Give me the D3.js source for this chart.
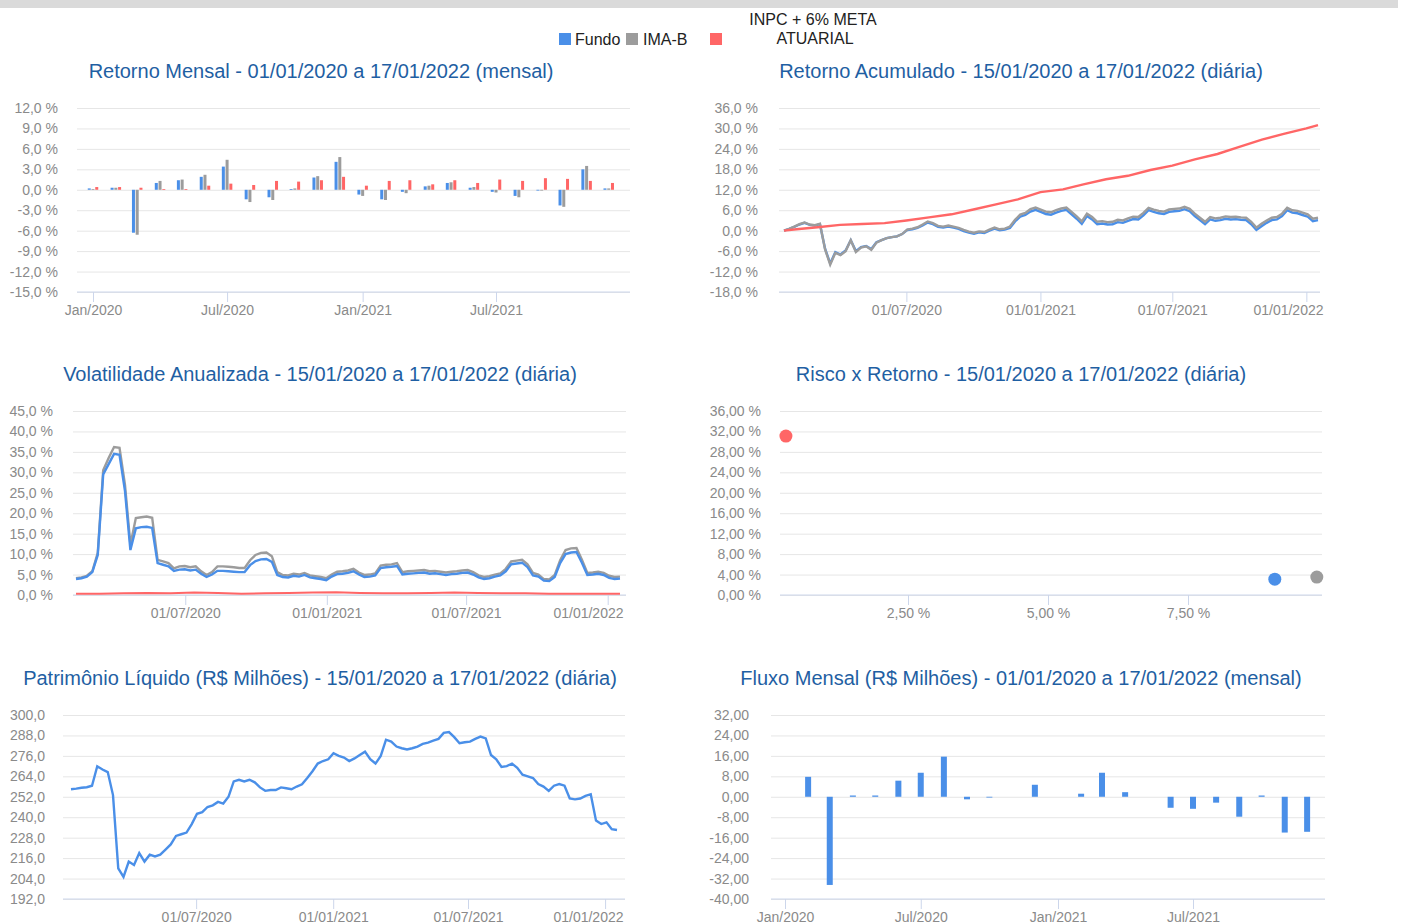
<!DOCTYPE html>
<html>
<head>
<meta charset="utf-8">
<script src="https://cdn.jsdelivr.net/npm/d3@7"></script>
<style>
  body { margin: 0; background: #fff; }
  svg text { font-family: 'Liberation Sans', Arial, Helvetica, sans-serif; }
</style>
</head>
<body>
<div id="chart"></div>
<script>
// ---- data ----
const seriesNames = ['Fundo', 'IMA-B', 'INPC + 6% META ATUARIAL'];
const months = ['2020-01-01', '2020-02-01', '2020-03-01', '2020-04-01', '2020-05-01', '2020-06-01',
  '2020-07-01', '2020-08-01', '2020-09-01', '2020-10-01', '2020-11-01', '2020-12-01',
  '2021-01-01', '2021-02-01', '2021-03-01', '2021-04-01', '2021-05-01', '2021-06-01',
  '2021-07-01', '2021-08-01', '2021-09-01', '2021-10-01', '2021-11-01', '2021-12-01'];

// Retorno Mensal (%)
const mensalFundo = [0.2, 0.3, -6.3, 1.0, 1.4, 1.9, 3.4, -1.4, -1.1, 0.1, 1.8, 4.1,
  -0.7, -1.4, -0.3, 0.5, 1.0, 0.3, -0.3, -0.9, 0.0, -2.3, 3.0, 0.2];
const mensalImab = [0.1, 0.3, -6.6, 1.3, 1.5, 2.2, 4.4, -1.8, -1.5, 0.2, 2.0, 4.8,
  -0.9, -1.5, -0.5, 0.6, 1.1, 0.4, -0.4, -1.1, -0.1, -2.5, 3.5, 0.2];
const mensalMeta = [0.4, 0.4, 0.3, 0.1, 0.1, 0.6, 0.9, 0.7, 1.3, 1.2, 1.4, 1.9,
  0.6, 1.3, 1.4, 0.8, 1.4, 1.0, 1.5, 1.3, 1.7, 1.6, 1.3, 1.0];

// Retorno Acumulado (%), pontos semanais de 15/01/2020 a 17/01/2022
const acumFundo = [0.0, 0.5, 1.1, 1.8, 2.3, 1.7, 1.5, 1.9, -5.3, -9.6,
  -6.3, -7.0, -5.8, -2.8, -6.0, -4.8, -4.5, -5.4, -3.4, -2.8,
  -2.2, -1.9, -1.7, -1.0, 0.2, 0.4, 0.8, 1.5, 2.4, 1.9,
  1.1, 0.9, 1.2, 0.9, 0.5, -0.1, -0.6, -0.9, -0.5, -0.7,
  0.0, 0.6, 0.1, 0.3, 0.8, 2.7, 4.1, 4.6, 5.6, 6.1,
  5.5, 4.9, 4.7, 5.3, 5.8, 6.1, 4.8, 3.5, 2.0, 4.3,
  3.3, 1.9, 2.1, 1.8, 1.9, 2.5, 2.3, 2.9, 3.4, 3.3,
  4.5, 6.0, 5.5, 5.1, 4.9, 5.5, 5.7, 5.8, 6.3, 5.7,
  4.3, 3.1, 1.9, 3.3, 2.9, 3.1, 3.5, 3.3, 3.4, 3.2,
  3.1, 1.9, 0.2, 1.3, 2.3, 3.1, 3.3, 4.3, 6.0, 5.3,
  5.1, 4.6, 4.1, 2.8, 3.1];
const acumImab = [0.0, 0.5, 1.2, 1.9, 2.4, 1.8, 1.6, 2.0, -5.5, -10.0,
  -6.5, -7.2, -6.0, -2.8, -6.3, -5.0, -4.6, -5.6, -3.5, -2.8,
  -2.2, -1.9, -1.7, -1.0, 0.3, 0.6, 1.0, 1.8, 2.7, 2.2,
  1.4, 1.2, 1.5, 1.2, 0.8, 0.2, -0.3, -0.6, -0.2, -0.4,
  0.3, 0.9, 0.4, 0.6, 1.2, 3.2, 4.7, 5.2, 6.3, 6.8,
  6.2, 5.6, 5.4, 6.0, 6.5, 6.8, 5.5, 4.2, 2.7, 5.0,
  4.0, 2.6, 2.8, 2.5, 2.6, 3.2, 3.0, 3.6, 4.1, 4.0,
  5.2, 6.7, 6.2, 5.8, 5.6, 6.2, 6.4, 6.5, 7.0, 6.4,
  5.0, 3.8, 2.6, 4.0, 3.6, 3.8, 4.2, 4.0, 4.1, 3.9,
  3.8, 2.6, 0.9, 2.0, 3.0, 3.8, 4.0, 5.0, 6.7, 6.0,
  5.8, 5.3, 4.8, 3.5, 3.8];
const metaDates = ['2020-01-15', '2020-02-01', '2020-03-01', '2020-04-01', '2020-05-01', '2020-06-01',
  '2020-07-01', '2020-08-01', '2020-09-01', '2020-10-01', '2020-11-01', '2020-12-01',
  '2021-01-01', '2021-02-01', '2021-03-01', '2021-04-01', '2021-05-01', '2021-06-01',
  '2021-07-01', '2021-08-01', '2021-09-01', '2021-10-01', '2021-11-01', '2021-12-01',
  '2022-01-01', '2022-01-17'];
const acumMeta = [0.0, 0.4, 1.0, 1.7, 1.95, 2.2, 3.0, 3.9, 4.8, 6.2, 7.7, 9.2,
  11.3, 12.1, 13.6, 15.1, 16.1, 17.8, 19.1, 20.9, 22.5, 24.6, 26.7, 28.4, 30.0, 31.0];

// Volatilidade anualizada (%), de 10/02/2020 a 17/01/2022
const volFundo = [3.9, 4.1, 4.5, 5.6, 9.8, 29.5, 32.0, 34.5, 34.3, 25.5,
  11.0, 16.3, 16.6, 16.7, 16.4, 7.8, 7.4, 7.0, 5.9, 6.2,
  6.3, 6.0, 6.2, 5.2, 4.4, 5.0, 5.9, 5.9, 5.8, 5.7,
  5.6, 5.6, 7.3, 8.3, 8.7, 8.8, 8.1, 4.9, 4.4, 4.3,
  4.7, 4.5, 4.9, 4.3, 4.1, 3.9, 3.6, 4.5, 5.1, 5.2,
  5.4, 5.8, 5.0, 4.4, 4.5, 4.8, 6.6, 6.8, 6.9, 7.1,
  5.0, 5.2, 5.3, 5.4, 5.5, 5.2, 5.3, 5.1, 4.9, 5.1,
  5.2, 5.4, 5.5, 5.0, 4.3, 3.9, 4.1, 4.5, 4.8, 5.8,
  7.5, 7.7, 7.9, 6.8, 4.8, 4.5, 3.5, 3.4, 4.4, 7.8,
  10.0, 10.4, 10.5, 7.9, 4.9, 5.0, 5.2, 4.9, 4.2, 3.9,
  4.0];
const volImab = [4.1, 4.3, 4.7, 5.8, 10.3, 30.5, 33.5, 36.2, 36.0, 27.0,
  12.3, 18.8, 19.0, 19.2, 18.9, 8.6, 8.2, 7.8, 6.5, 7.0,
  7.1, 6.8, 7.0, 5.8, 4.9, 5.6, 7.0, 7.0, 6.9, 6.8,
  6.6, 6.6, 8.5, 9.8, 10.3, 10.4, 9.5, 5.6, 4.9, 4.8,
  5.2, 5.0, 5.4, 4.8, 4.6, 4.4, 4.1, 5.0, 5.7, 5.8,
  6.0, 6.4, 5.5, 4.9, 5.0, 5.3, 7.2, 7.4, 7.5, 7.8,
  5.6, 5.8, 5.9, 6.0, 6.1, 5.8, 5.9, 5.7, 5.5, 5.7,
  5.8, 6.0, 6.1, 5.6, 4.8, 4.4, 4.6, 5.0, 5.3, 6.4,
  8.2, 8.4, 8.6, 7.5, 5.4, 5.0, 3.9, 3.8, 4.9, 8.5,
  11.0, 11.4, 11.5, 8.6, 5.4, 5.5, 5.7, 5.4, 4.7, 4.4,
  4.5];
const volMeta = [0.3, 0.3, 0.4, 0.5, 0.4, 0.6, 0.5, 0.3, 0.4, 0.5, 0.6, 0.7,
  0.5, 0.4, 0.4, 0.5, 0.6, 0.5, 0.4, 0.4, 0.3, 0.3, 0.3, 0.3];

// Risco x Retorno: [volatilidade %, retorno %]
const riscoRetorno = [[9.05, 3.1], [9.80, 3.5], [0.32, 31.1]];

// Patrimônio Líquido (R$ milhões), pontos semanais de 15/01/2020 a 17/01/2022
const plFundo = [256.4, 256.8, 257.3, 257.6, 258.5, 269.9, 268.0, 266.5, 253.0, 210.0,
  205.0, 214.0, 212.0, 219.0, 214.0, 218.0, 217.0, 218.0, 221.0, 224.0,
  229.0, 230.0, 231.0, 236.0, 242.0, 243.0, 246.0, 247.0, 249.0, 248.0,
  252.0, 261.0, 262.0, 261.0, 262.0, 260.5, 257.5, 255.5, 256.0, 256.0,
  257.5, 257.0, 256.4, 258.0, 259.3, 263.0, 267.0, 271.5, 273.0, 274.0,
  277.6, 276.0, 275.0, 273.0, 274.5, 276.5, 278.5, 274.0, 271.5, 276.0,
  285.5, 284.4, 281.5, 280.5, 279.8, 280.5, 281.5, 283.0, 283.8, 285.0,
  286.0, 289.5, 290.0, 287.0, 283.4, 284.0, 284.4, 286.0, 287.3, 286.3,
  276.5, 274.0, 269.5, 270.0, 271.5, 269.0, 265.0, 264.0, 263.0, 259.5,
  258.0, 255.5, 258.5, 259.5, 258.5, 251.0, 250.5, 251.0, 252.5, 253.5,
  238.0, 236.0, 237.0, 233.0, 232.5];

// Fluxo Mensal (R$ milhões)
const fluxo = [0, 7.8, -34.5, 0.5, 0.5, 6.3, 9.4, 15.7, -1.0, -0.3, 0, 4.7,
  0, 1.2, 9.4, 1.8, 0, -4.3, -4.7, -2.3, -7.8, 0.5, -14.0, -13.7];

const colors = { Fundo: '#4a8fe8', 'IMA-B': '#9c9c9c', Meta: '#ff6666' };

// ---- helpers ----
const parse = d3.timeParse('%Y-%m-%d');
const locale = d3.formatLocale({ decimal: ',', thousands: '.', grouping: [3], currency: ['R$ ', ''], minus: '-' });
const f1 = locale.format('.1f');
const f2 = locale.format('.2f');
const fDate = d3.timeFormat('%d/%m/%Y');
const mNames = ['Jan', 'Fev', 'Mar', 'Abr', 'Mai', 'Jun', 'Jul', 'Ago', 'Set', 'Out', 'Nov', 'Dez'];
const fMonth = (d) => `${mNames[d.getMonth()]}/${d.getFullYear()}`;

function spread(start, end, n) {
  const a = parse(start).getTime();
  const b = parse(end).getTime();
  return d3.range(n).map((i) => new Date(a + (i * (b - a)) / (n - 1)));
}

const svg = d3.select('#chart').append('svg').attr('width', 1404).attr('height', 924);
svg.append('rect').attr('x', 0).attr('y', 0).attr('width', 1398).attr('height', 8).attr('fill', '#dadada');

// legend
const legend = svg.append('g').attr('font-size', 16).attr('fill', '#222');
legend.append('rect').attr('x', 559).attr('y', 33).attr('width', 12).attr('height', 12).attr('fill', colors.Fundo);
legend.append('text').attr('x', 575).attr('y', 44.5).text(seriesNames[0]);
legend.append('rect').attr('x', 626).attr('y', 33).attr('width', 12).attr('height', 12).attr('fill', colors['IMA-B']);
legend.append('text').attr('x', 643).attr('y', 44.5).text(seriesNames[1]);
legend.append('rect').attr('x', 710).attr('y', 33).attr('width', 12).attr('height', 12).attr('fill', colors.Meta);
legend.append('text').attr('x', 813).attr('y', 25).attr('text-anchor', 'middle').text('INPC + 6% META');
legend.append('text').attr('x', 815).attr('y', 44).attr('text-anchor', 'middle').text('ATUARIAL');

function frame(o) {
  const y = d3.scaleLinear().domain(o.yDomain).range(o.yRange);
  const g = svg.append('g');
  g.append('g')
    .attr('transform', `translate(${o.left},0)`)
    .call(d3.axisLeft(y).tickValues(o.yTicks).tickSize(-(o.right - o.left)).tickPadding(o.left - o.labelRight).tickFormat(o.yFormat))
    .call((a) => {
      a.select('.domain').remove();
      a.selectAll('line').attr('stroke', '#e6e6e6');
      a.selectAll('text').attr('fill', '#8a8a8a').attr('font-size', 14).attr('font-family', null);
    });
  g.append('line')
    .attr('x1', o.left).attr('x2', o.right)
    .attr('y1', o.yRange[0]).attr('y2', o.yRange[0])
    .attr('stroke', '#ccd6eb');
  g.append('text')
    .attr('x', o.titleX).attr('y', o.titleY)
    .attr('text-anchor', 'middle')
    .attr('font-size', 20)
    .attr('fill', '#1f5fa3')
    .text(o.title);
  return { g, y };
}

function bottomAxis(g, x, yPos, values, fmt, limit) {
  const ax = g.append('g')
    .attr('transform', `translate(0,${yPos})`)
    .call(d3.axisBottom(x).tickValues(values).tickFormat(fmt).tickSize(10).tickPadding(3));
  ax.select('.domain').remove();
  ax.selectAll('line').attr('stroke', '#ccd6eb');
  ax.selectAll('text').attr('fill', '#8a8a8a').attr('font-size', 14).attr('font-family', null);
  // keep the last label inside the plot, like the original
  ax.selectAll('text').each(function (d) {
    const w = this.getComputedTextLength();
    const over = x(d) + w / 2 - limit;
    if (over > 0) d3.select(this).attr('x', -over);
  });
}

const lineOf = (x, y) => d3.line().x((d) => x(d[0])).y((d) => y(d[1]));

// ---- Retorno Mensal ----
{
  const { g, y } = frame({
    yDomain: [-15, 12], yRange: [292, 108], yTicks: d3.range(-15, 13, 3),
    yFormat: (d) => f1(d) + ' %', left: 77, right: 630, labelRight: 58,
    title: 'Retorno Mensal - 01/01/2020 a 17/01/2022 (mensal)', titleX: 321, titleY: 78,
  });
  const x = d3.scaleTime().domain([parse('2020-01-01'), parse('2021-07-01')]).range([93, 496]);
  const x1 = d3.scaleBand().domain(['Fundo', 'IMA-B', 'Meta']).range([-6, 6]).padding(0.2);
  const rows = months.map((m, i) => ({ date: parse(m), vals: [['Fundo', mensalFundo[i]], ['IMA-B', mensalImab[i]], ['Meta', mensalMeta[i]]] }));
  g.selectAll('.mgroup').data(rows).enter().append('g')
    .attr('transform', (d) => `translate(${x(d.date)},0)`)
    .selectAll('rect').data((d) => d.vals).enter().append('rect')
    .attr('x', (d) => x1(d[0]))
    .attr('width', x1.bandwidth())
    .attr('y', (d) => Math.min(y(d[1]), y(0)))
    .attr('height', (d) => Math.max(Math.abs(y(d[1]) - y(0)), 0.8))
    .attr('fill', (d) => colors[d[0]]);
  bottomAxis(g, x, 292, ['2020-01-01', '2020-07-01', '2021-01-01', '2021-07-01'].map(parse), fMonth, 633);
}

// ---- Retorno Acumulado ----
{
  const { g, y } = frame({
    yDomain: [-18, 36], yRange: [292, 108], yTicks: d3.range(-18, 37, 6),
    yFormat: (d) => f1(d) + ' %', left: 779, right: 1320, labelRight: 758,
    title: 'Retorno Acumulado - 15/01/2020 a 17/01/2022 (diária)', titleX: 1021, titleY: 78,
  });
  const x = d3.scaleTime().domain([parse('2020-01-15'), parse('2022-01-17')]).range([784, 1318]);
  const dates = spread('2020-01-15', '2022-01-17', acumFundo.length);
  const line = lineOf(x, y);
  g.append('path').attr('d', line(dates.map((d, i) => [d, acumFundo[i]])))
    .attr('fill', 'none').attr('stroke', colors.Fundo).attr('stroke-width', 2.4);
  g.append('path').attr('d', line(dates.map((d, i) => [d, acumImab[i]])))
    .attr('fill', 'none').attr('stroke', colors['IMA-B']).attr('stroke-width', 2.4);
  g.append('path').attr('d', line(metaDates.map((d, i) => [parse(d), acumMeta[i]])))
    .attr('fill', 'none').attr('stroke', colors.Meta).attr('stroke-width', 2.4);
  bottomAxis(g, x, 292, ['2020-07-01', '2021-01-01', '2021-07-01', '2022-01-01'].map(parse), fDate, 1323);
}

// ---- Volatilidade ----
{
  const { g, y } = frame({
    yDomain: [0, 45], yRange: [595, 411], yTicks: d3.range(0, 46, 5),
    yFormat: (d) => f1(d) + ' %', left: 73, right: 626, labelRight: 53,
    title: 'Volatilidade Anualizada - 15/01/2020 a 17/01/2022 (diária)', titleX: 320, titleY: 381,
  });
  const x = d3.scaleTime().domain([parse('2020-02-10'), parse('2022-01-17')]).range([76, 620]);
  const dates = spread('2020-02-10', '2022-01-17', volFundo.length);
  const mdates = spread('2020-02-10', '2022-01-17', volMeta.length);
  const line = lineOf(x, y);
  g.append('path').attr('d', line(mdates.map((d, i) => [d, volMeta[i]])))
    .attr('fill', 'none').attr('stroke', colors.Meta).attr('stroke-width', 2);
  g.append('path').attr('d', line(dates.map((d, i) => [d, volImab[i]])))
    .attr('fill', 'none').attr('stroke', colors['IMA-B']).attr('stroke-width', 2.4);
  g.append('path').attr('d', line(dates.map((d, i) => [d, volFundo[i]])))
    .attr('fill', 'none').attr('stroke', colors.Fundo).attr('stroke-width', 2.4);
  bottomAxis(g, x, 595, ['2020-07-01', '2021-01-01', '2021-07-01', '2022-01-01'].map(parse), fDate, 623);
}

// ---- Risco x Retorno ----
{
  const { g, y } = frame({
    yDomain: [0, 36], yRange: [595, 411], yTicks: d3.range(0, 37, 4),
    yFormat: (d) => f2(d) + ' %', left: 780, right: 1322, labelRight: 761,
    title: 'Risco x Retorno - 15/01/2020 a 17/01/2022 (diária)', titleX: 1021, titleY: 381,
  });
  const x = d3.scaleLinear().domain([2.5, 7.5]).range([908, 1188]);
  const keys = ['Fundo', 'IMA-B', 'Meta'];
  g.selectAll('.pt').data(riscoRetorno).enter().append('circle')
    .attr('cx', (d) => x(d[0]))
    .attr('cy', (d) => y(d[1]))
    .attr('r', 6.5)
    .attr('fill', (d, i) => colors[keys[i]]);
  bottomAxis(g, x, 595, [2.5, 5, 7.5], (d) => f2(d) + ' %', 1325);
}

// ---- Patrimônio Líquido ----
{
  const { g, y } = frame({
    yDomain: [192, 300], yRange: [899, 715], yTicks: d3.range(192, 301, 12),
    yFormat: (d) => f1(d), left: 63, right: 625, labelRight: 45,
    title: 'Patrimônio Líquido (R$ Milhões) - 15/01/2020 a 17/01/2022 (diária)', titleX: 320, titleY: 685,
  });
  const x = d3.scaleTime().domain([parse('2020-01-15'), parse('2022-01-17')]).range([71, 617]);
  const dates = spread('2020-01-15', '2022-01-17', plFundo.length);
  g.append('path').attr('d', lineOf(x, y)(dates.map((d, i) => [d, plFundo[i]])))
    .attr('fill', 'none').attr('stroke', colors.Fundo).attr('stroke-width', 2.4);
  bottomAxis(g, x, 899, ['2020-07-01', '2021-01-01', '2021-07-01', '2022-01-01'].map(parse), fDate, 623);
}

// ---- Fluxo Mensal ----
{
  const { g, y } = frame({
    yDomain: [-40, 32], yRange: [899, 715], yTicks: d3.range(-40, 33, 8),
    yFormat: (d) => f2(d), left: 771, right: 1325, labelRight: 749,
    title: 'Fluxo Mensal (R$ Milhões) - 01/01/2020 a 17/01/2022 (mensal)', titleX: 1021, titleY: 685,
  });
  const x = d3.scaleTime().domain([parse('2020-01-01'), parse('2021-07-01')]).range([785, 1193]);
  g.selectAll('.fbar').data(months.map((m, i) => [parse(m), fluxo[i]])).enter().append('rect')
    .attr('x', (d) => x(d[0]) - 3)
    .attr('width', 6)
    .attr('y', (d) => Math.min(y(d[1]), y(0)))
    .attr('height', (d) => Math.abs(y(d[1]) - y(0)))
    .attr('fill', colors.Fundo);
  bottomAxis(g, x, 899, ['2020-01-01', '2020-07-01', '2021-01-01', '2021-07-01'].map(parse), fMonth, 1328);
}
</script>
</body>
</html>
